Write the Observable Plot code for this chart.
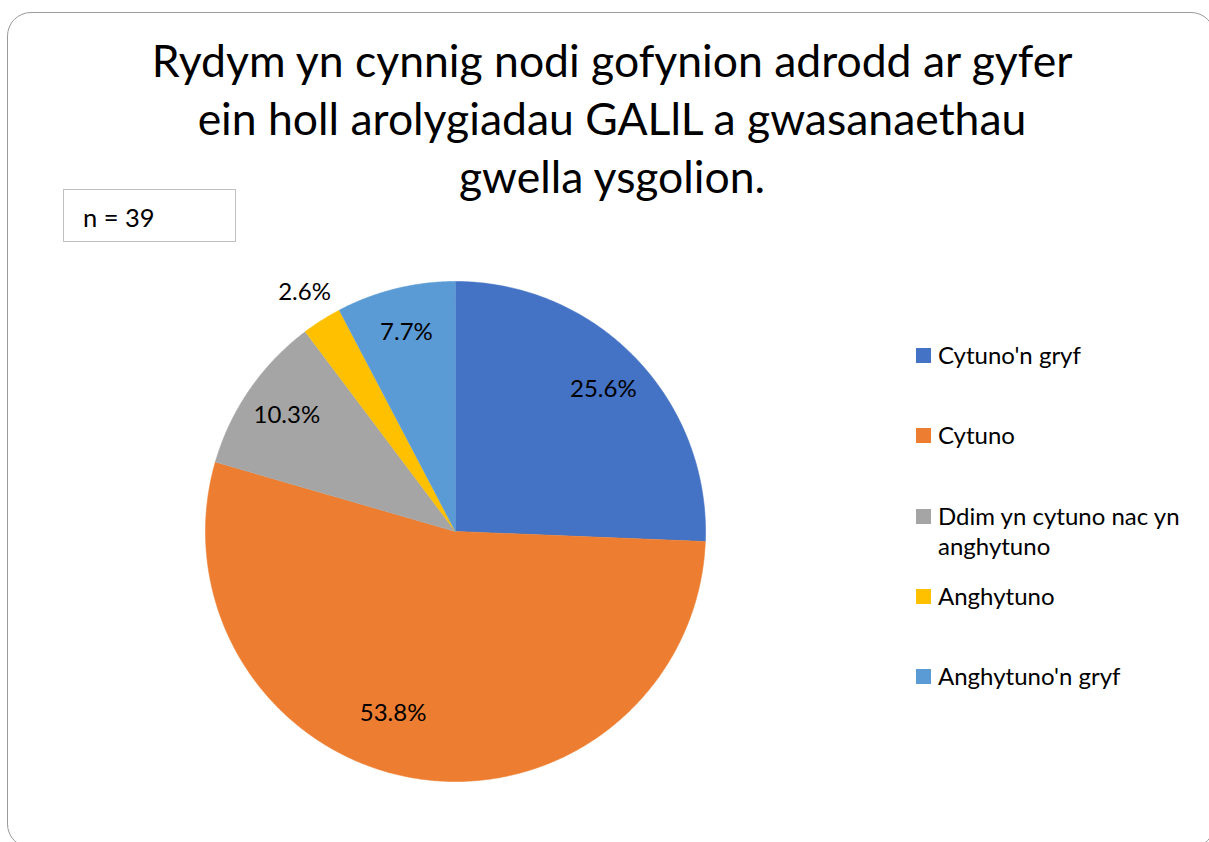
<!DOCTYPE html>
<html>
<head>
<meta charset="utf-8">
<script src="https://cdn.jsdelivr.net/npm/d3@7"></script>
<script src="https://cdn.jsdelivr.net/npm/@observablehq/plot@0.6"></script>
<style>
  html, body { margin: 0; padding: 0; background: #fff; }
  #stage { position: relative; width: 1209px; height: 842px; overflow: hidden; font-family: Lato, "Open Sans", sans-serif; color: #000; }
  #frame { position: absolute; left: 7px; top: 12px; width: 1208px; height: 836px; border: 1.5px solid #9a9a9a; border-radius: 24px; box-sizing: border-box; }
  #chart { position: absolute; left: 0; top: 0; }
  #title { position: absolute; left: 0; top: 31px; width: 1224px; text-align: center; font-size: 44.5px; line-height: 58px; }
  #nbox { position: absolute; left: 63px; top: 189px; width: 173px; height: 53px; border: 1.5px solid #c0c0c0; box-sizing: border-box; background: #fff; }
  #nbox span { position: absolute; left: 19px; top: 12px; font-size: 25.5px; line-height: 30px; }
  .leg { position: absolute; left: 916px; display: flex; align-items: flex-start; }
  .sw { width: 15px; height: 15px; margin-top: 8px; flex: none; }
  .lt { margin-left: 7px; font-size: 24px; line-height: 30px; width: 268px; white-space: normal; }
</style>
</head>
<body>
<div id="stage">
  <div id="frame"></div>
  <div id="chart"></div>
  <div id="title"></div>
  <div id="nbox"><span></span></div>
  <div id="legend"></div>
</div>
<script>
// ---- data ----
const titleLines = ["Rydym yn cynnig nodi gofynion adrodd ar gyfer", "ein holl arolygiadau GALlL a gwasanaethau", "gwella ysgolion."];
const sampleLabel = "n = 39";
const categories = ["Cytuno'n gryf", "Cytuno", "Ddim yn cytuno nac yn anghytuno", "Anghytuno", "Anghytuno'n gryf"];
const counts = [10, 21, 4, 1, 3];
const colors = ["#4472C4", "#ED7D31", "#A5A5A5", "#FFC000", "#5B9BD5"];

// ---- layout ----
const W = 1209, H = 842, cx = 455, cy = 531, R = 250;

const total = d3.sum(counts);
const pie = d3.pie().sort(null).value(d => d.count)
  (categories.map((c, i) => ({cat: c, count: counts[i]})));

// polygon points per slice (angles clockwise from 12 o'clock, in radius units)
const pts = [];
for (const s of pie) {
  pts.push({cat: s.data.cat, x: 0, y: 0});
  const n = Math.max(2, Math.ceil((s.endAngle - s.startAngle) / (Math.PI / 360)));
  for (let k = 0; k <= n; k++) {
    const a = s.startAngle + (s.endAngle - s.startAngle) * k / n;
    pts.push({cat: s.data.cat, x: Math.sin(a), y: Math.cos(a)});
  }
}
const labels = pie.map(s => {
  const share = s.data.count / total;
  // large slice label sits a little past its middle angle, as in the source
  const f = share > 0.5 ? 0.55 : 0.5;
  const a = s.startAngle + (s.endAngle - s.startAngle) * f;
  const r = share < 0.05 ? 1.13 : share > 0.5 ? 0.77 : 0.82;
  return {x: r * Math.sin(a), y: r * Math.cos(a), text: (share * 100).toFixed(1) + "%"};
});

const chart = Plot.plot({
  width: W, height: H,
  margin: 0,
  x: {domain: [-cx / R, (W - cx) / R], axis: null},
  y: {domain: [-(H - cy) / R, cy / R], axis: null},
  color: {domain: categories, range: colors},
  style: {background: "transparent", fontFamily: "Lato, 'Open Sans', sans-serif"},
  marks: [
    Plot.line(pts, {x: "x", y: "y", z: "cat", fill: "cat", stroke: "cat", strokeWidth: 0.6, curve: "linear"}),
    Plot.text(labels, {x: "x", y: "y", text: "text", fontSize: 24, fill: "#000", textAnchor: "middle", lineAnchor: "middle"})
  ]
});
document.getElementById("chart").appendChild(chart);

document.getElementById("title").innerHTML = titleLines.join("<br>");
document.querySelector("#nbox span").textContent = sampleLabel;

const leg = document.getElementById("legend");
categories.forEach((c, i) => {
  const row = document.createElement("div");
  row.className = "leg";
  row.style.top = (355 - 15 + i * 80.25) + "px";
  const sw = document.createElement("div");
  sw.className = "sw";
  sw.style.background = colors[i];
  const t = document.createElement("div");
  t.className = "lt";
  t.textContent = c;
  row.appendChild(sw); row.appendChild(t);
  leg.appendChild(row);
});
</script>
</body>
</html>
